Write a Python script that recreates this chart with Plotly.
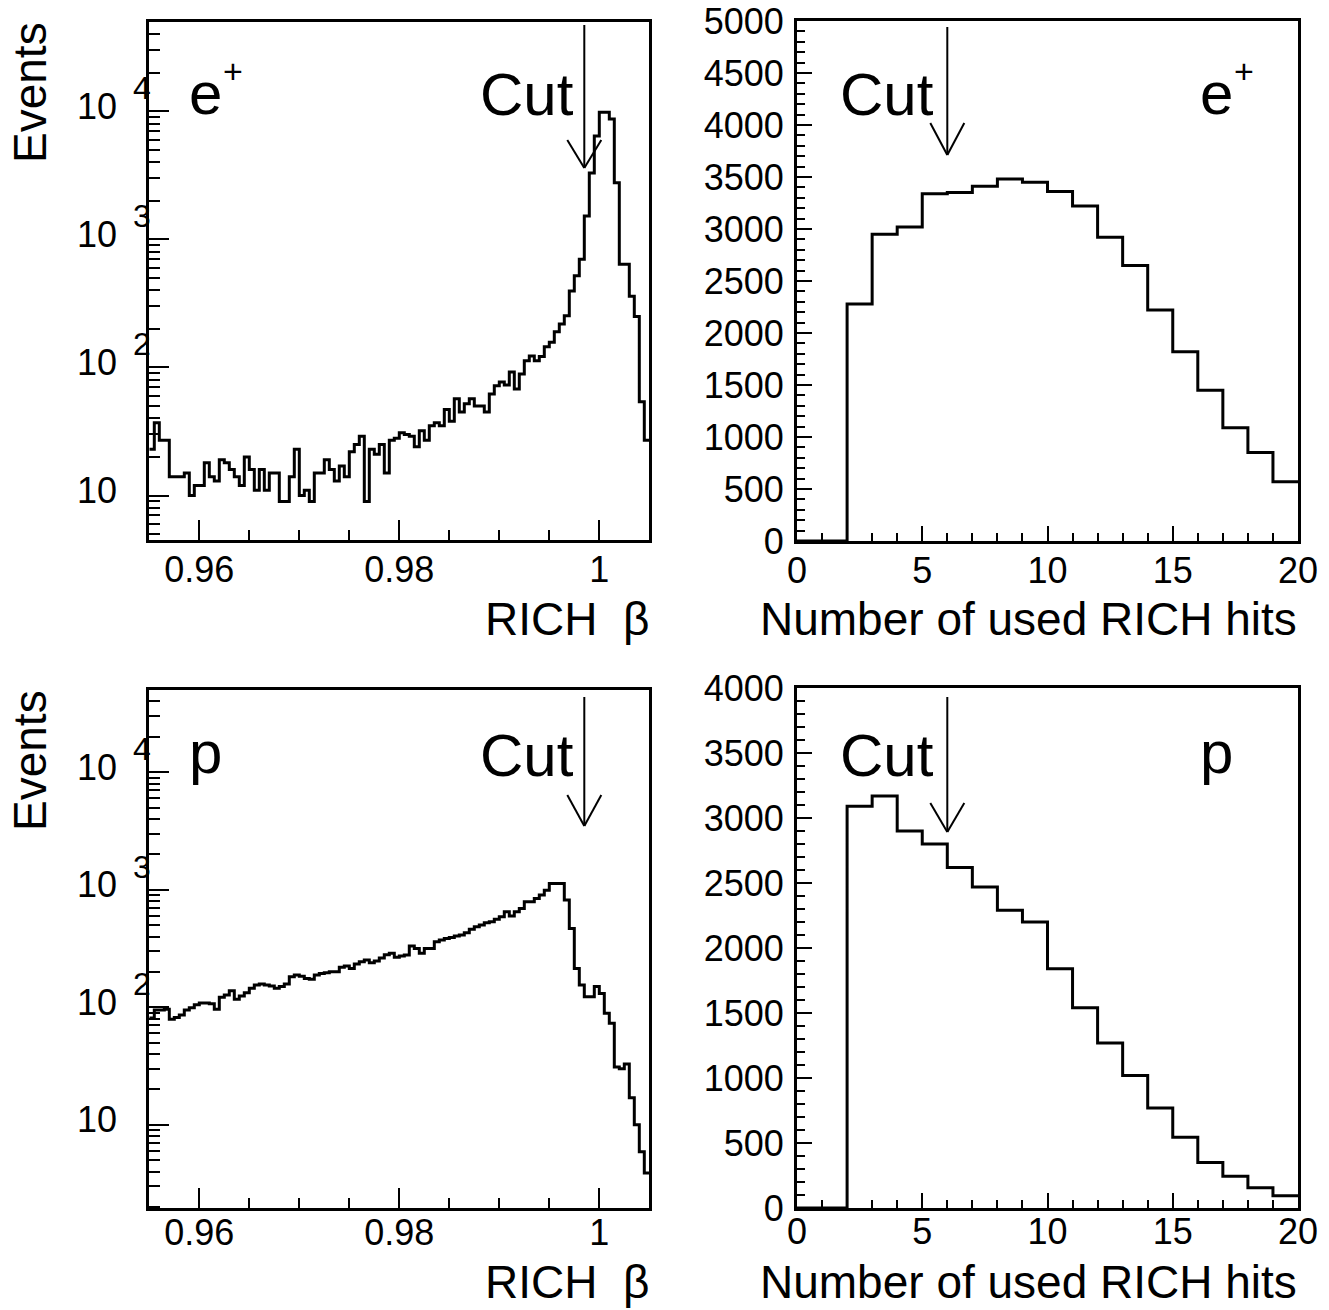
import numpy as np
import plotly.graph_objects as go

W, H = 1329, 1310
FONT = "Liberation Sans, Arial, Helvetica, sans-serif"

# ---------------- histogram contents ----------------
# RICH beta: 100 bins between 0.955 and 1.005
beta_lo, beta_hi, beta_nbins = 0.955, 1.005, 100
beta_positron = [23, 37, 27, 27, 14, 14, 14, 15, 10, 12,
                 12, 18, 14, 13, 19, 18, 16, 14, 12, 20,
                 16, 11, 16, 11, 15, 15, 9, 9, 14, 23,
                 10, 11, 9, 15, 15, 19, 16, 13, 17, 14,
                 22, 25, 29, 9, 23, 21, 25, 15, 27, 28,
                 31, 30, 29, 24, 32, 27, 35, 37, 35, 47,
                 38, 57, 45, 52, 57, 50, 50, 45, 62, 72,
                 77, 73, 92, 68, 89, 113, 123, 113, 122, 145,
                 157, 190, 218, 253, 396, 520, 700, 1520, 3300, 6400,
                 9800, 9800, 8700, 2770, 640, 640, 360, 250, 54, 27]
beta_proton = [81, 95, 95, 96, 79, 82, 86, 95, 99, 105,
               109, 109, 107, 96, 122, 127, 138, 117, 125, 133,
               145, 155, 158, 155, 152, 145, 150, 158, 182, 188,
               184, 176, 173, 188, 194, 197, 201, 201, 219, 224,
               214, 233, 244, 252, 239, 248, 262, 280, 288, 266,
               273, 278, 332, 317, 288, 317, 317, 361, 373, 385,
               393, 403, 412, 431, 460, 484, 500, 523, 534, 560,
               589, 649, 597, 649, 693, 789, 789, 843, 900, 990,
               1132, 1132, 1132, 816, 469, 214, 155, 123, 123, 150,
               131, 89, 73, 31, 30, 33, 17, 10, 5.9, 3.9]

# number of used RICH hits: unit bins from 0 to 20
hits_lo, hits_hi = 0, 20
hits_positron = [0, 0, 2280, 2950, 3020, 3340, 3350, 3410, 3480, 3450,
                 3360, 3220, 2920, 2650, 2220, 1820, 1450, 1090, 850, 570]
hits_proton = [0, 0, 3090, 3170, 2900, 2800, 2620, 2470, 2290, 2200,
               1840, 1540, 1270, 1020, 770, 545, 350, 245, 155, 95]

# selection cuts
beta_cut = 0.9985
hits_cut = 6

# axis ranges and labels
log_ymax = 5e4
beta_xticks = [0.96, 0.98, 1.0]
beta_xticktext = ["0.96", "0.98", "1"]
decades = [1, 2, 3, 4]

beta_edges = np.linspace(beta_lo, beta_hi, beta_nbins + 1)
hits_edges = np.arange(hits_lo, hits_hi + 1)


def px_x(p):
    return p / W


def px_y(p):
    return 1 - p / H


def step_trace(edges, counts, xa, ya):
    y = list(counts) + [counts[-1]]
    return go.Scatter(x=list(edges), y=y, mode="lines", xaxis=xa, yaxis=ya,
                      line=dict(shape="hv", color="black", width=3),
                      hoverinfo="skip", showlegend=False)


fig = go.Figure()
fig.add_trace(step_trace(beta_edges, beta_positron, "x", "y"))
fig.add_trace(step_trace(hits_edges, hits_positron, "x2", "y2"))
fig.add_trace(step_trace(beta_edges, beta_proton, "x3", "y3"))
fig.add_trace(step_trace(hits_edges, hits_proton, "x4", "y4"))

tickfont = dict(family=FONT, size=36, color="black")
common = dict(showline=True, mirror=True, linecolor="black", linewidth=3,
              showgrid=False, zeroline=False, ticks="inside", tickcolor="black",
              tickwidth=2, tickfont=tickfont, automargin=False)

dom_left = [px_x(149.3), px_x(649.3)]
dom_right = [px_x(797), px_x(1298)]
dom_tl = [px_y(540), px_y(21.7)]
dom_tr = [px_y(541), px_y(21)]
dom_bl = [px_y(1208.3), px_y(690)]
dom_br = [px_y(1208), px_y(688)]

beta_minor = [round(beta_lo + 0.005 * k, 4) for k in range(11)]
beta_minor = [v for v in beta_minor if v not in beta_xticks]


def beta_xaxis(domain, anchor, standoff):
    return dict(common, domain=domain, anchor=anchor, range=[beta_lo, beta_hi],
                tickmode="array", tickvals=beta_xticks, ticktext=beta_xticktext,
                ticklen=20, ticklabelstandoff=standoff,
                minor=dict(ticks="inside", ticklen=10, tickwidth=2, tickcolor="black",
                           tickmode="array", tickvals=beta_minor))


def log_yaxis(domain, anchor, ymin):
    minor_vals = [m * 10 ** d for d in range(0, 5) for m in range(2, 10)
                  if ymin <= m * 10 ** d <= log_ymax]
    return dict(common, domain=domain, anchor=anchor, type="log",
                range=[np.log10(ymin), np.log10(log_ymax)],
                tickmode="array", tickvals=[10 ** d for d in decades],
                showticklabels=False, ticklen=20,
                minor=dict(ticks="inside", ticklen=11, tickwidth=2, tickcolor="black",
                           tickmode="array", tickvals=minor_vals))


def hits_xaxis(domain, anchor, standoff):
    return dict(common, domain=domain, anchor=anchor, range=[hits_lo, hits_hi],
                tickmode="linear", tick0=0, dtick=5, ticklen=15, ticklabelstandoff=standoff,
                minor=dict(ticks="inside", ticklen=8, tickwidth=2, tickcolor="black", dtick=1))


def count_yaxis(domain, anchor, ymax):
    return dict(common, domain=domain, anchor=anchor, range=[0, ymax],
                tickmode="linear", tick0=0, dtick=500, ticklen=15, ticklabelstandoff=3,
                minor=dict(ticks="inside", ticklen=8, tickwidth=2, tickcolor="black", dtick=100))


ymin_pos = 0.5 * min(beta_positron)
ymin_pro = 0.5 * min(beta_proton)

fig.update_layout(
    width=W, height=H, margin=dict(l=0, r=0, t=0, b=0, autoexpand=False),
    paper_bgcolor="white", plot_bgcolor="white", showlegend=False,
    xaxis=beta_xaxis(dom_left, "y", -4),
    yaxis=log_yaxis(dom_tl, "x", ymin_pos),
    xaxis2=hits_xaxis(dom_right, "y2", -4),
    yaxis2=count_yaxis(dom_tr, "x2", 5000),
    xaxis3=beta_xaxis(dom_left, "y3", -10),
    yaxis3=log_yaxis(dom_bl, "x3", ymin_pro),
    xaxis4=hits_xaxis(dom_right, "y4", -10),
    yaxis4=count_yaxis(dom_br, "x4", 4000),
)

ann = []

# log-axis labels drawn as "10" with a raised exponent
for yref in ["y", "y3"]:
    for d in decades:
        ann.append(dict(x=px_x(119), y=d, xref="paper", yref=yref, text="10",
                        xanchor="right", yanchor="middle", yshift=5, showarrow=False,
                        font=dict(family=FONT, size=36, color="black")))
        if d > 1:
            ann.append(dict(x=px_x(131), y=d, xref="paper", yref=yref, text=str(d),
                            xanchor="left", yanchor="middle", yshift=23, showarrow=False,
                            font=dict(family=FONT, size=32, color="black")))

# axis titles
for yc in [93, 761]:
    ann.append(dict(x=px_x(30), y=px_y(yc), xref="paper", yref="paper", text="Events",
                    textangle=-90, xanchor="center", yanchor="middle", showarrow=False,
                    font=dict(family=FONT, size=46, color="black")))
for yc in [619, 1282]:
    ann.append(dict(x=px_x(651), y=px_y(yc), xref="paper", yref="paper",
                    text="RICH\u00a0\u00a0\u03b2", xanchor="right", yanchor="middle",
                    showarrow=False, font=dict(family=FONT, size=46, color="black")))
    ann.append(dict(x=px_x(1299), y=px_y(yc), xref="paper", yref="paper",
                    text="Number of used RICH hits", xanchor="right", yanchor="middle",
                    showarrow=False, font=dict(family=FONT, size=46, color="black")))

# "Cut" labels and particle labels
big = dict(family=FONT, size=60, color="black")
for xr, ymid in [(576, 95), (936, 95), (576, 755), (936, 755)]:
    ann.append(dict(x=px_x(xr), y=px_y(ymid), xref="paper", yref="paper", text="Cut",
                    xanchor="right", yanchor="middle", showarrow=False, font=big))
for xl, ymid, name in [(187, 93, "e"), (1198, 93, "e"), (187, 753, "p"), (1198, 753, "p")]:
    ann.append(dict(x=px_x(xl), y=px_y(ymid), xref="paper", yref="paper", text=name,
                    xanchor="left", yanchor="middle", showarrow=False, font=big))
for xl in [221, 1232]:
    ann.append(dict(x=px_x(xl), y=px_y(71), xref="paper", yref="paper", text="+",
                    xanchor="left", yanchor="middle", showarrow=False,
                    font=dict(family=FONT, size=34, color="black")))

fig.update_layout(annotations=ann)

# cut arrows: vertical line ending in an open arrow head
shapes = []
arrow_specs = [
    ("x", "y domain", beta_cut, 0.9936, 0.7177, 0.7718),
    ("x2", "y2 domain", hits_cut, 0.9885, 0.7423, 0.8038),
    ("x3", "y3 domain", beta_cut, 0.9865, 0.7376, 0.7974),
    ("x4", "y4 domain", hits_cut, 0.9827, 0.7231, 0.7788),
]
aline = dict(color="black", width=2)
for xr, yr, xc, ytop, ytip, ywing in arrow_specs:
    shapes.append(dict(type="line", xref=xr, yref=yr, x0=xc, x1=xc, y0=ytop, y1=ytip, line=aline))
    for dx in (-17, 17):
        shapes.append(dict(type="line", xref=xr, yref=yr, xsizemode="pixel", xanchor=xc,
                           x0=dx, x1=0, y0=ywing, y1=ytip, line=aline))
fig.update_layout(shapes=shapes)

fig.write_html("out.html")
